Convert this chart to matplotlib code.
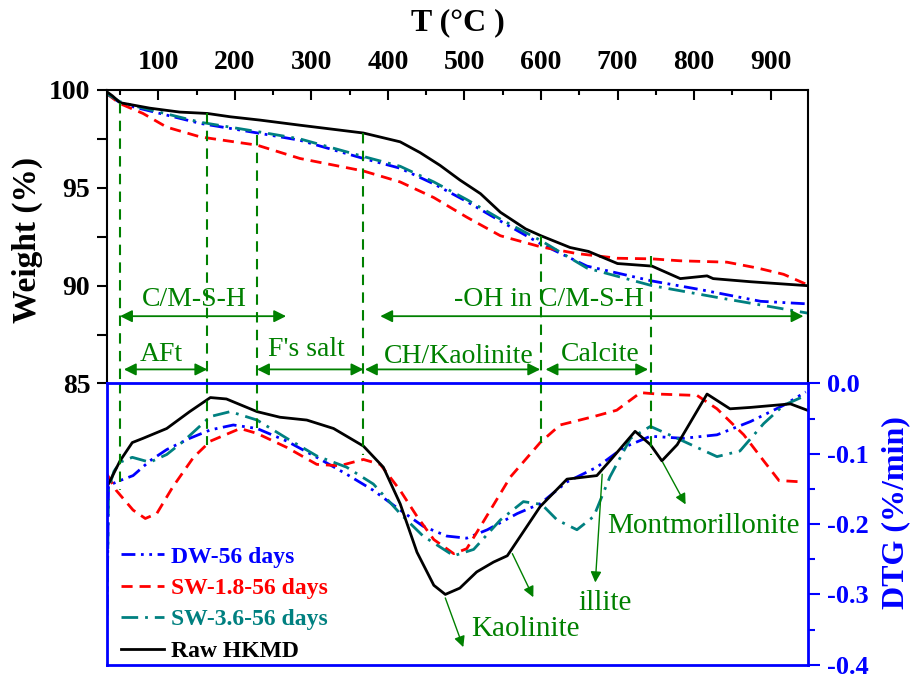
import matplotlib
matplotlib.use("Agg")
import matplotlib.pyplot as plt
from matplotlib.ticker import MultipleLocator, FormatStrFormatter

plt.rcParams['font.family'] = ['Liberation Serif', 'DejaVu Serif']
plt.rcParams['font.weight'] = 'bold'
plt.rcParams['axes.unicode_minus'] = False

# ---------------- data ----------------
# Weight (%) curves
T_w_raw = [33, 40, 50, 89, 128, 164, 194, 233, 285, 368, 416, 442, 468, 494, 521, 547, 580, 600,
           638, 662, 700, 745, 782, 817, 825, 874, 948]
W_raw = [99.9, 99.7, 99.35, 99.07, 98.87, 98.8, 98.63, 98.46, 98.2, 97.8, 97.35, 96.8, 96.15, 95.4,
         94.7, 93.75, 92.9, 92.55, 91.95, 91.75, 91.13, 91.0, 90.36, 90.5, 90.36, 90.2, 90.0]

T_w_sw18 = [33, 50, 80, 111, 155, 229, 285, 368, 416, 460, 503, 547, 600, 647, 700, 745, 782, 843,
            883, 917, 948]
W_sw18 = [99.8, 99.3, 98.8, 98.1, 97.6, 97.18, 96.5, 95.86, 95.3, 94.5, 93.5, 92.55, 91.98, 91.64,
          91.4, 91.37, 91.27, 91.2, 90.9, 90.58, 90.05]

T_w_dw = [33, 50, 67, 155, 233, 285, 368, 416, 460, 503, 547, 600, 660, 745, 808, 887, 948]
W_dw = [99.8, 99.35, 99.14, 98.29, 97.78, 97.43, 96.5, 96.0, 95.2, 94.3, 93.3, 92.13, 91.0, 90.24,
        89.8, 89.2, 89.07]

T_w_sw36 = [33, 50, 67, 155, 233, 285, 368, 416, 460, 503, 547, 600, 660, 745, 830, 948]
W_sw36 = [99.8, 99.4, 99.2, 98.35, 97.85, 97.5, 96.6, 96.1, 95.3, 94.4, 93.4, 92.3, 90.9, 90.0,
          89.4, 88.6]

# DTG (%/min) curves
T_d_raw = [33, 50, 66, 80, 111, 141, 168, 189, 229, 259, 294, 329, 368, 394, 416, 438, 460, 475,
           494, 516, 538, 556, 599, 634, 673, 690, 723, 743, 758, 778, 817, 847, 874, 926, 948]
D_raw = [-0.147, -0.110, -0.084, -0.078, -0.064, -0.040, -0.020, -0.022, -0.040, -0.048, -0.052,
         -0.064, -0.089, -0.119, -0.171, -0.240, -0.287, -0.300, -0.291, -0.268, -0.254, -0.245,
         -0.175, -0.136, -0.131, -0.110, -0.068, -0.087, -0.110, -0.087, -0.015, -0.036, -0.034,
         -0.029, -0.038]

T_d_sw18 = [33, 45, 67, 83, 98, 119, 146, 168, 207, 229, 268, 307, 337, 368, 390, 416, 438, 460,
            486, 503, 525, 560, 599, 625, 669, 699, 730, 752, 804, 830, 865, 891, 911, 942]
D_sw18 = [-0.129, -0.152, -0.180, -0.192, -0.185, -0.147, -0.105, -0.082, -0.064, -0.071, -0.091,
          -0.115, -0.117, -0.108, -0.115, -0.152, -0.189, -0.222, -0.242, -0.235, -0.196, -0.133,
          -0.084, -0.059, -0.047, -0.038, -0.013, -0.015, -0.017, -0.036, -0.073, -0.110, -0.138,
          -0.140]

T_d_dw = [33, 35, 50, 67, 89, 111, 141, 168, 198, 229, 268, 307, 346, 381, 416, 446, 477, 503, 530,
          569, 599, 634, 673, 708, 743, 786, 830, 874, 917, 946]
D_dw = [-0.32, -0.145, -0.138, -0.131, -0.110, -0.094, -0.078, -0.066, -0.059, -0.064, -0.082,
        -0.105, -0.129, -0.152, -0.180, -0.203, -0.217, -0.220, -0.208, -0.185, -0.171, -0.140,
        -0.119, -0.091, -0.075, -0.078, -0.073, -0.054, -0.031, -0.012]

T_d_sw36 = [33, 35, 42, 50, 66, 89, 111, 133, 168, 194, 229, 268, 307, 346, 381, 416, 446, 486, 512,
            547, 577, 601, 621, 647, 669, 690, 717, 743, 778, 830, 860, 891, 917, 946]
D_sw36 = [-0.33, -0.15, -0.125, -0.112, -0.105, -0.112, -0.101, -0.082, -0.047, -0.040, -0.052,
          -0.078, -0.103, -0.119, -0.143, -0.185, -0.217, -0.245, -0.236, -0.194, -0.168, -0.172,
          -0.194, -0.208, -0.189, -0.133, -0.078, -0.061, -0.078, -0.104, -0.096, -0.057, -0.031,
          -0.017]

labels = ["DW-56 days", "SW-1.8-56 days", "SW-3.6-56 days", "Raw HKMD"]
x_ticks = [100, 200, 300, 400, 500, 600, 700, 800, 900]

# annotation guides
vline_T = [50, 164, 229, 368, 600, 744]
vline_top = [99.33, 98.8, 97.7, 97.8, 92.55, 91.5]
vline_bot = [-0.152, -0.087, -0.064, -0.101, -0.084, -0.101]

ranges = [("C/M-S-H", 50, 267, 88.44, 147, 88.96),
          ("-OH in C/M-S-H", 390, 943, 88.44, 610, 88.96),
          ("AFt", 55, 164, 85.72, 104, 86.13),
          ("F's salt", 229, 368, 85.72, 294, 86.4),
          ("CH/Kaolinite", 370, 599, 85.72, 493, 86.05),
          ("Calcite", 606, 740, 85.72, 678, 86.13)]

peak_arrows = [(475, -0.305, 498.5, -0.375), (562.6, -0.242, 590, -0.304),
               (680, -0.129, 671, -0.283), (759, -0.112, 789, -0.172)]
peak_texts = [("Kaolinite", 580, -0.3596), ("illite", 684, -0.322),
              ("Montmorillonite", 812, -0.2126)]

# ---------------- figure ----------------
GREEN = '#008000'
fig = plt.figure(figsize=(9.14, 6.79), dpi=100)
ax1 = fig.add_axes([0.1171, 0.4352, 0.767, 0.4323])
ax2 = fig.add_axes([0.1171, 0.0210, 0.767, 0.4142])

xlim = (33, 949)
lw = 2.0
sty = {
    'dw': dict(color='blue', lw=lw, dashes=(5, 2, 1, 2, 1, 2)),
    'sw18': dict(color='red', lw=lw, dashes=(4, 2.5)),
    'sw36': dict(color='#008080', lw=lw, dashes=(6, 2.5, 1, 2.5)),
    'raw': dict(color='black', lw=lw, linestyle='-'),
}

ax1.plot(T_w_dw, W_dw, **sty['dw'])
ax1.plot(T_w_sw18, W_sw18, **sty['sw18'])
ax1.plot(T_w_sw36, W_sw36, **sty['sw36'])
ax1.plot(T_w_raw, W_raw, **sty['raw'])

h1, = ax2.plot(T_d_dw, D_dw, label=labels[0], **sty['dw'])
h2, = ax2.plot(T_d_sw18, D_sw18, label=labels[1], **sty['sw18'])
h3, = ax2.plot(T_d_sw36, D_sw36, label=labels[2], **sty['sw36'])
h4, = ax2.plot(T_d_raw, D_raw, label=labels[3], **sty['raw'])

# top axes styling
ax1.set_xlim(*xlim)
ax1.set_ylim(85, 100)
ax1.xaxis.set_ticks_position('top')
ax1.set_xticks(x_ticks)
ax1.xaxis.set_minor_locator(MultipleLocator(50))
ax1.tick_params(axis='x', which='both', direction='in', top=True, bottom=False,
                labeltop=True, labelbottom=False, width=1.5, labelsize=20, pad=11)
ax1.tick_params(axis='x', which='major', length=7)
ax1.tick_params(axis='x', which='minor', length=3.6)
ax1.yaxis.set_major_locator(MultipleLocator(5))
ax1.yaxis.set_minor_locator(MultipleLocator(2.5))
ax1.tick_params(axis='y', which='both', direction='out', length=7, width=1.5,
                labelsize=20, pad=5)
for s in ['top', 'left', 'right']:
    ax1.spines[s].set_linewidth(1.5)
ax1.spines['bottom'].set_visible(False)
ax1.patch.set_alpha(0)

# bottom axes styling
ax2.set_xlim(*xlim)
ax2.set_ylim(-0.4, 0.0)
ax2.set_xticks([])
ax2.yaxis.tick_right()
ax2.yaxis.set_major_locator(MultipleLocator(0.1))
ax2.yaxis.set_minor_locator(MultipleLocator(0.05))
ax2.yaxis.set_major_formatter(FormatStrFormatter('%.1f'))
ax2.tick_params(axis='y', which='both', direction='out', colors='blue', width=1.5,
                labelsize=19, pad=5)
ax2.tick_params(axis='y', which='major', length=8.5)
ax2.tick_params(axis='y', which='minor', length=5)
for s in ax2.spines.values():
    s.set_color('blue')
    s.set_linewidth(2)

# axis labels
fig.text(0.030, 0.6465, "Weight (%)", rotation=90, ha='center', va='center',
         fontsize=24, fontweight='bold')
fig.text(0.980, 0.245, "DTG (%/min)", rotation=90, ha='center', va='center',
         fontsize=23, fontweight='bold', color='blue')
fig.text(0.501, 0.966, "T (°C )", ha='center', va='center', fontsize=23, fontweight='bold')

# green guides
for t, top, bot in zip(vline_T, vline_top, vline_bot):
    ax1.plot([t, t], [top, 85], color=GREEN, lw=1.5, dashes=(5, 3.5), clip_on=False)
    ax2.plot([t, t], [0, bot], color=GREEN, lw=1.5, dashes=(5, 3.5), clip_on=False)

for txt, x0, x1, ya, xt, yt in ranges:
    ax1.annotate('', xy=(x1, ya), xytext=(x0, ya),
                 arrowprops=dict(arrowstyle='<|-|>', color=GREEN, lw=1.3,
                                 mutation_scale=18, shrinkA=0, shrinkB=0))
    ax1.text(xt, yt, txt, color=GREEN, fontsize=20, fontweight='normal',
             ha='center', va='baseline')

for x0, y0, x1, y1 in peak_arrows:
    ax2.annotate('', xy=(x1, y1), xytext=(x0, y0),
                 arrowprops=dict(arrowstyle='-|>', color=GREEN, lw=1.0,
                                 mutation_scale=16, shrinkA=0, shrinkB=0))
for txt, xt, yt in peak_texts:
    ax2.text(xt, yt, txt, color=GREEN, fontsize=21, fontweight='normal',
             ha='center', va='baseline')

leg = ax2.legend(handles=[h1, h2, h3, h4], loc='lower left', bbox_to_anchor=(0.02, 0.01),
                 frameon=False, borderaxespad=0, borderpad=0, labelspacing=0.42,
                 handlelength=1.8, handletextpad=0.3, labelcolor='linecolor',
                 prop=dict(family='Liberation Serif', weight='bold', size=17))

fig.savefig('out.png', dpi=100)
